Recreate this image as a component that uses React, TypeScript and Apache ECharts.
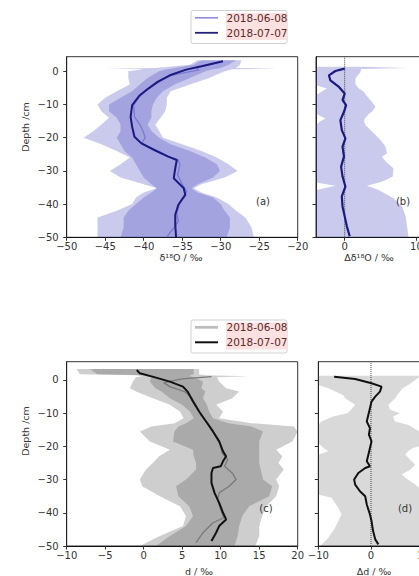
import React, { useEffect, useRef } from 'react';
import * as echarts from 'echarts';

// ---------- tick labels ----------
const aXTicks = [-50, -45, -40, -35, -30, -25, -20];
const bXTicks = [0, 10];
const cXTicks = [-10, -5, 0, 5, 10, 15, 20];
const dXTicks = [-10, 0, 10];
const depthTicks = [0, -10, -20, -30, -40, -50];
const legendLabels = ['2018-06-08', '2018-07-07'];

// ---------- panel (a): δ18O bands ----------
const aDepth = [3.3, 2, 1.0, 0.8, 0.6, 0, -2, -4, -6, -8, -10, -12, -14, -16, -18, -20, -22, -24, -26, -28, -30, -32, -34, -35.2, -36.5, -38, -40, -42, -44, -47, -50];
const aOuterL = [-33, -34, -38.5, -44.8, -40, -42, -42, -41.8, -43.5, -45, -46, -45.5, -44.5, -45.5, -46.5, -47.8, -45.5, -43.5, -41.8, -43, -44.4, -43, -40, -38.3, -40, -41, -41.5, -43.5, -46, -46, -46];
const aInnerL = [-32.5, -33.5, -36, -36.5, -37, -38, -39.5, -40.5, -41.5, -43, -44.5, -44.5, -43.5, -43, -43, -43.5, -43, -42.5, -41.5, -41, -40.5, -40, -39, -38.3, -39, -40, -41, -42, -42.6, -42.6, -43];
const aInnerR = [-28, -29, -30, -30.5, -31, -32, -34, -36, -37.5, -38.3, -38.8, -39, -39, -39.5, -39, -38, -36.5, -34, -32, -30.5, -30.1, -31, -33, -33.8, -33, -31, -30, -29.5, -28.8, -28.8, -29.2];
const aOuterR = [-27.3, -27.5, -28, -22.7, -28.5, -29.5, -31.5, -34, -36.5, -37, -37, -37.2, -37.8, -38.5, -38, -37.5, -35, -32.5, -30.5, -29, -27.8, -29.5, -32.5, -33.5, -32.5, -30.5, -29, -28, -26.8, -26, -25.7];

const a0707D = [3, 1.5, 0.5, -1.2, -3.2, -5.2, -7.2, -10.2, -13.7, -16.7, -19.7, -21.7, -23.7, -25.7, -26.7, -29.2, -32.2, -35.2, -37.2, -40.2, -43.2, -46.2, -49.9];
const a0707X = [-29.7, -32.5, -34.5, -36.6, -38.2, -39.4, -40.5, -41.5, -41.7, -41.5, -41.2, -40.3, -38.6, -36.8, -35.7, -35.9, -36.1, -34.8, -34.6, -35.5, -35.9, -35.9, -35.8];
const a0608D = [3, 1.8, 1.0, 0.4, -0.3, -1.2, -2.5, -4, -5.5, -7.5, -10.2, -13.7, -16, -18, -20, -21.5, -23.7, -25.7, -26.7, -28.2, -31.2, -34, -36.2, -39.5, -42.7, -45.2, -47.5, -49.9];
const a0608X = [-29.7, -31.8, -33.2, -32.8, -34.5, -36.4, -37.5, -38.6, -39.5, -40.5, -41.3, -41.2, -40.5, -40.1, -39.8, -40.2, -38.8, -36.9, -35.5, -35.3, -35.6, -35, -34.4, -35.3, -35.7, -35.5, -36.2, -37];

// ---------- panel (b): Δδ18O ----------
const bDepth = [1.4, 1.0, 0.7, -0.2, -2.2, -3.7, -4.2, -5.2, -6.2, -7.2, -8.7, -10.7, -12.2, -12.8, -14.2, -15.2, -16.2, -17.7, -20.7, -22.7, -24.7, -25.7, -27.2, -29.2, -31.7, -33.0, -33.5, -34.5, -35.3, -35.8, -38.2, -40.7, -43.7, -46.7, -50];
const bLeft = [-6, -6, -6, -6, -6, -6, -4, -2.5, -3.3, -6, -6, -6, -6, -4, -2.7, -3.5, -6, -6, -6, -6, -6, -6, -6, -6, -6, -6, -4, -1.3, -3, -6, -6, -6, -6, -6, -6];
const bRight = [2.5, 9, 2.3, 2.2, 1.5, 1.5, 1.6, 2.0, 2.7, 3.0, 3.6, 4.3, 3.8, 3.4, 2.8, 2.7, 2.9, 3.6, 5.0, 5.7, 5.9, 5.2, 5.7, 6.8, 6.7, 5.5, 4.8, 3.1, 4.2, 4.8, 6.8, 8.0, 8.5, 8.7, 8.9];
const bLineD = [0.8, 0.1, -1.2, -2.7, -4.7, -6.7, -8.7, -10.2, -12.2, -14.7, -17.7, -20.2, -22.7, -25.7, -28.7, -31.7, -34.7, -37.7, -40.7, -43.7, -46.7, -49.7];
const bLineX = [0, -1.3, -2.2, -2, -0.8, 0, -0.3, 0.2, -0.1, -0.6, -0.4, 0.1, -0.3, -0.1, -0.5, -0.3, 0.1, -0.4, -0.3, 0, 0.3, 0.7];

// ---------- panel (c): d-excess bands ----------
const cDepth = [3.3, 1.7, 1.4, 1.1, 0.8, -0.5, -2.5, -3.5, -5.5, -7.5, -9.5, -11.5, -13, -14, -15.5, -18.5, -21, -23, -25, -27, -30, -32, -35, -38, -41, -44, -47, -50];
const cOuterL = [-8.7, -8.3, -1, -0.2, -1, -1.4, -1.8, -1, 1.2, 3.4, 4.7, 5.2, 4, 1, -0.5, 0.8, 3.4, 2, 1.2, 0.3, -0.5, -0.2, 2.1, 4.7, 5.5, 5.1, 2.1, -0.5];
const cInnerL = [-7, -6, 1, 1, 1, 0.8, 1.5, 2.3, 3.4, 5, 6, 6.5, 5.5, 4.5, 4, 3.8, 6.4, 6.5, 6.8, 6.8, 5.5, 4.2, 4.5, 5.9, 6.4, 5.5, 3.4, 1.6];
const cInnerR = [6.5, 6.5, 6, 6, 6.5, 7.7, 7.5, 8, 7.7, 8.2, 8.5, 9, 11, 14, 15.5, 15, 15, 15, 15, 15.2, 15.5, 16.7, 16.3, 13.7, 12.8, 12.4, 12.2, 11.8];
const cOuterR = [7.2, 7.2, 8, 13.7, 9.5, 9.8, 10.7, 12.4, 11.5, 9.4, 10.3, 9.8, 14, 19.5, 20, 19.3, 17.2, 18, 17.5, 18.2, 17.2, 17.6, 17.2, 15.9, 15.4, 15, 15, 14.5];

const c0707D = [3, 2, 0.7, -0.5, -2, -3.5, -6.5, -9.5, -12.5, -15.5, -18.5, -21.5, -23, -24.5, -26, -26.5, -28, -31, -34, -37, -40, -42, -44, -46, -48.5];
const c0707X = [-0.9, -0.5, 1.6, 3.4, 5.1, 5.7, 6.4, 7.2, 8.1, 9, 9.8, 10.3, 10.7, 10.3, 10, 9, 8.8, 8.8, 9.2, 9.8, 10.3, 10.7, 9.8, 9.4, 8.8];
const c0608D = [1.0, 0.3, -0.8, -2, -3.5, -5.5, -8, -10.5, -13, -16, -19, -22, -24, -26, -28, -30, -32, -34, -36, -39, -41.5, -43, -46, -49];
const c0608X = [8.8, 5, 2.6, 3.4, 5.3, 6.3, 6.9, 7.4, 8.3, 9.1, 9.9, 10.2, 10.9, 10.5, 11.5, 12, 11.1, 9.8, 9.6, 10, 10.4, 9, 7.7, 6.8];

// ---------- panel (d): Δd ----------
const dDepth = [1.3, -1.5, -2.5, -4.5, -5.5, -7.5, -9, -10, -11, -12.5, -13.5, -15.5, -19, -20.5, -21.5, -22.5, -23, -25.5, -27, -28.5, -30, -31.5, -33, -34.5, -35.5, -38.5, -40.5, -44.5, -47.5, -50];
const dLeft = [-12, -12, -8.1, -5.3, -4.9, -3, -3.8, -4.5, -7.2, -9.4, -12, -12, -12, -9, -8.1, -10, -12, -12, -12, -12, -12, -12, -12, -10, -7.5, -6.2, -5.6, -6.8, -8.1, -9.6];
const dRight = [9.5, 7.1, 6, 5, 4.6, 3.3, 3.6, 5.5, 4.2, 4.5, 7, 9.2, 11, 8, 7, 6.5, 6.8, 8.4, 7.5, 5.8, 7, 8.4, 9.5, 10, 11, 12, 12, 12, 12, 12];
const dLineD = [1, 0.3, -1, -2, -3.5, -5, -6.5, -8.5, -10.5, -12.5, -14.5, -16.5, -18.5, -20.5, -22.5, -24.5, -26, -26.5, -28, -30, -31.5, -33.5, -35, -37.5, -40.5, -42.5, -45.5, -48, -49.5];
const dLineX = [-7, -3, 0.1, 2, 1.7, 0.8, 0.1, -0.2, -0.5, -0.8, -0.2, -0.4, 0.1, -0.2, -0.5, -0.8, -0.2, -1.1, -2.4, -3.2, -3, -2.1, -1.1, -0.8, -0.2, 0.1, 0.4, 0.8, 1.4];

// ---------- styling ----------
const FONT = '"DejaVu Sans", "Liberation Sans", sans-serif';
const TXT = '#333';
const PURPLE_FILL = 'rgba(60,60,190,0.27)';
const GRAY_FILL = 'rgba(80,80,80,0.28)';
const GRAY_FILL_D = 'rgba(80,80,80,0.22)';
const NAVY = '#1a1a80';
const LAV = '#7a7ad2';
const BLACK = '#111';
const GRAY_LINE = '#7a7a7a';

const fmt = (v: number) => (v < 0 ? '\u2212' + Math.abs(v) : String(v));
const pairs = (xs: number[], ds: number[]) => xs.map((x, i) => [x, ds[i]]);

function bandSeries(idx: number, depth: number[], left: number[], right: number[], color: string, xmin: number) {
  return {
    type: 'custom',
    xAxisIndex: idx,
    yAxisIndex: idx,
    silent: true,
    z: 1,
    data: depth.map((d, i) => [left[i], d, right[i]]),
    encode: { x: [0, 2], y: 1 },
    renderItem: (params: any, api: any) => {
      if (params.dataIndex !== 0) return null;
      const pts: number[][] = [];
      for (let i = 0; i < depth.length; i++) pts.push(api.coord([Math.max(left[i], xmin), depth[i]]));
      for (let i = depth.length - 1; i >= 0; i--) pts.push(api.coord([right[i], depth[i]]));
      return { type: 'polygon', shape: { points: pts }, style: { fill: color }, silent: true };
    },
  };
}

function lineSeries(idx: number, xs: number[], ds: number[], color: string, width: number, z = 3) {
  return {
    type: 'line',
    xAxisIndex: idx,
    yAxisIndex: idx,
    data: pairs(xs, ds),
    showSymbol: false,
    silent: true,
    z,
    lineStyle: { color, width },
  };
}

function zeroLine(idx: number, ymax: number) {
  return {
    type: 'line',
    xAxisIndex: idx,
    yAxisIndex: idx,
    data: [[0, -50], [0, ymax]],
    showSymbol: false,
    silent: true,
    z: 2,
    lineStyle: { color: '#444', width: 1, type: 'dotted' },
  };
}

function xAxis(idx: number, min: number, max: number, ticks: number[]) {
  return {
    type: 'value',
    gridIndex: idx,
    min,
    max,
    splitLine: { show: false },
    axisLine: { show: true, onZero: false, lineStyle: { color: '#111', width: 1.2 } },
    axisTick: { show: true, length: 3.5, customValues: ticks, lineStyle: { color: '#333' } },
    axisLabel: { show: true, customValues: ticks, formatter: fmt, color: TXT, fontSize: 10, fontFamily: FONT, margin: 4, hideOverlap: false },
  };
}

function yAxis(idx: number, max: number, labels: boolean) {
  return {
    type: 'value',
    gridIndex: idx,
    min: -50,
    max,
    splitLine: { show: false },
    axisLine: { show: true, onZero: false, lineStyle: { color: '#222', width: 1 } },
    axisTick: { show: true, length: 3.5, customValues: depthTicks, lineStyle: { color: '#333' } },
    axisLabel: { show: labels, customValues: depthTicks, formatter: fmt, color: TXT, fontSize: 10, fontFamily: FONT, margin: 8 },
  };
}

function legend(top: number, c1: string, w1: number, c2: string, w2: number) {
  const rows = [top + 7.3, top + 22.3];
  return [
    { type: 'rect', shape: { x: 191, y: top, width: 96, height: 33, r: 2 }, style: { fill: '#fff', stroke: '#d0d0d0', lineWidth: 1 }, z: 10 },
    { type: 'rect', shape: { x: 226, y: top + 2.5, width: 61, height: 27 }, style: { fill: '#fde0e0' }, z: 11 },
    { type: 'line', shape: { x1: 195, y1: rows[0], x2: 218, y2: rows[0] }, style: { stroke: c1, lineWidth: w1 }, z: 12 },
    { type: 'line', shape: { x1: 195, y1: rows[1], x2: 218, y2: rows[1] }, style: { stroke: c2, lineWidth: w2 }, z: 12 },
    { type: 'text', x: 226.5, y: rows[0], style: { text: legendLabels[0], fill: '#5a2a2a', font: `10.5px ${FONT}`, verticalAlign: 'middle', align: 'left' }, z: 12 },
    { type: 'text', x: 226.5, y: rows[1], style: { text: legendLabels[1], fill: '#5a2a2a', font: `10.5px ${FONT}`, verticalAlign: 'middle', align: 'left' }, z: 12 },
  ];
}

function label(text: string, x: number, y: number, size = 10, rotation = 0) {
  return {
    type: 'text',
    x,
    y,
    rotation,
    style: { text, fill: TXT, font: `${size}px ${FONT}`, align: 'center', verticalAlign: 'middle' },
    z: 12,
  };
}

const A_YMAX = 4.4;
const C_YMAX = 5.5;

export default function App() {
  const ref = useRef<HTMLDivElement>(null);
  useEffect(() => {
    const chart = echarts.init(ref.current!, null, { renderer: 'svg' });
    const gridBase = {
      show: true,
      borderColor: '#333',
      borderWidth: 1,
      backgroundColor: 'transparent',
      containLabel: false,
      outerBoundsMode: 'none',
    };
    const option: any = {
      animation: false,
      textStyle: { fontFamily: FONT },
      grid: [
        { ...gridBase, left: 66.7, top: 56.7, width: 231, height: 180.6 },
        { ...gridBase, left: 316, top: 56.7, width: 129.1, height: 180.6 },
        { ...gridBase, left: 66.7, top: 361.7, width: 231, height: 184.3 },
        { ...gridBase, left: 318.3, top: 361.7, width: 131.75, height: 184.3 },
      ],
      xAxis: [
        xAxis(0, -50, -20, aXTicks),
        xAxis(1, -4, 14, bXTicks),
        xAxis(2, -10, 20, cXTicks),
        xAxis(3, -10, 15, dXTicks),
      ],
      yAxis: [yAxis(0, A_YMAX, true), yAxis(1, A_YMAX, false), yAxis(2, C_YMAX, true), yAxis(3, C_YMAX, false)],
      series: [
        bandSeries(0, aDepth, aOuterL, aOuterR, PURPLE_FILL, -50),
        bandSeries(0, aDepth, aInnerL, aInnerR, PURPLE_FILL, -50),
        lineSeries(0, a0608X, a0608D, LAV, 1.3),
        lineSeries(0, a0707X, a0707D, NAVY, 2),
        bandSeries(1, bDepth, bLeft, bRight, PURPLE_FILL, -4),
        zeroLine(1, A_YMAX),
        lineSeries(1, bLineX, bLineD, NAVY, 2.2),
        bandSeries(2, cDepth, cOuterL, cOuterR, GRAY_FILL, -10),
        bandSeries(2, cDepth, cInnerL, cInnerR, GRAY_FILL, -10),
        lineSeries(2, c0608X, c0608D, GRAY_LINE, 1.3),
        lineSeries(2, c0707X, c0707D, BLACK, 2),
        bandSeries(3, dDepth, dLeft, dRight, GRAY_FILL_D, -10),
        zeroLine(3, C_YMAX),
        lineSeries(3, dLineX, dLineD, BLACK, 2),
      ],
      graphic: [
        ...legend(10.5, '#8e8ed8', 1.6, '#22227a', 1.8),
        ...legend(320, '#bdbdbd', 2.8, '#111', 2),
        label('Depth /cm', 25, 127, 9.5, Math.PI / 2),
        label('Depth /cm', 25, 431, 9.5, Math.PI / 2),
        label('\u03b4\u00b9\u2078O / \u2030', 181, 257, 9.5),
        label('\u0394\u03b4\u00b9\u2078O / \u2030', 369, 257, 9.5),
        label('d / \u2030', 199, 571, 9.5),
        label('\u0394d / \u2030', 374, 571, 9.5),
        label('(a)', 263, 201, 10),
        label('(b)', 403, 201, 10),
        label('(c)', 266, 508, 10),
        label('(d)', 405, 508, 10),
      ],
    };
    chart.setOption(option);
    return () => chart.dispose();
  }, []);
  return <div ref={ref} style={{ position: 'absolute', left: 0, top: 0, width: 419, height: 576 }} />;
}
